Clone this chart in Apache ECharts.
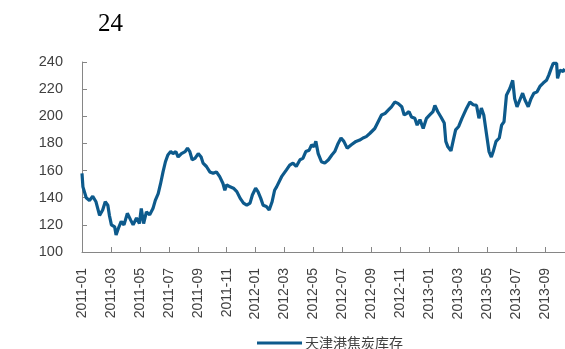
<!DOCTYPE html>
<html>
<head>
<meta charset="utf-8">
<script src="https://cdn.jsdelivr.net/npm/echarts@6/dist/echarts.min.js"></script>
<style>
  html, body { margin: 0; padding: 0; background: #fff; }
  #chart { width: 565px; height: 349px; }
</style>
</head>
<body>
<div id="chart"></div>
<script>
// 天津港焦炭库存（万吨）
const dates = [
  '2011-01-01','2011-01-03','2011-01-10','2011-01-17','2011-01-24','2011-01-31',
  '2011-02-07','2011-02-13','2011-02-18','2011-02-23','2011-02-26',
  '2011-03-02','2011-03-09','2011-03-12','2011-03-17','2011-03-23','2011-03-29',
  '2011-04-05','2011-04-12','2011-04-17','2011-04-24','2011-04-30',
  '2011-05-04','2011-05-09','2011-05-15','2011-05-22','2011-05-29',
  '2011-06-03','2011-06-09','2011-06-14','2011-06-19','2011-06-24','2011-06-29',
  '2011-07-05','2011-07-10','2011-07-16','2011-07-21','2011-07-28',
  '2011-08-05','2011-08-10','2011-08-15','2011-08-20','2011-08-26',
  '2011-09-02','2011-09-08','2011-09-12','2011-09-19','2011-09-26',
  '2011-10-03','2011-10-10','2011-10-17','2011-10-24','2011-10-28',
  '2011-11-01','2011-11-08','2011-11-15','2011-11-22','2011-11-29',
  '2011-12-06','2011-12-13','2011-12-20','2011-12-25',
  '2012-01-01','2012-01-06','2012-01-12','2012-01-17','2012-01-24','2012-01-30',
  '2012-02-05','2012-02-10','2012-02-14','2012-02-24',
  '2012-03-05','2012-03-12','2012-03-19','2012-03-26',
  '2012-04-03','2012-04-09','2012-04-15','2012-04-22','2012-04-27',
  '2012-05-02','2012-05-06','2012-05-11','2012-05-18','2012-05-25',
  '2012-06-02','2012-06-09','2012-06-15','2012-06-22','2012-06-28',
  '2012-07-04','2012-07-11','2012-07-20','2012-07-30',
  '2012-08-07','2012-08-14','2012-08-21','2012-08-29',
  '2012-09-08','2012-09-15','2012-09-22','2012-09-29',
  '2012-10-06','2012-10-13','2012-10-20','2012-10-27',
  '2012-11-04','2012-11-09','2012-11-14','2012-11-19','2012-11-24',
  '2012-12-01','2012-12-06','2012-12-12','2012-12-19','2012-12-26',
  '2013-01-02','2013-01-09','2013-01-13','2013-01-19','2013-01-26',
  '2013-02-02','2013-02-05','2013-02-09','2013-02-15','2013-02-19','2013-02-24',
  '2013-03-02','2013-03-09','2013-03-19','2013-03-26',
  '2013-04-02','2013-04-09','2013-04-14','2013-04-19','2013-04-24','2013-04-30',
  '2013-05-05','2013-05-10','2013-05-14','2013-05-20','2013-05-27',
  '2013-06-01','2013-06-06','2013-06-11','2013-06-18','2013-06-24','2013-06-28',
  '2013-07-03','2013-07-09','2013-07-15','2013-07-20','2013-07-27',
  '2013-08-02','2013-08-08','2013-08-15','2013-08-21','2013-08-28',
  '2013-09-04','2013-09-09','2013-09-14','2013-09-18','2013-09-25','2013-09-27',
  '2013-10-02','2013-10-09','2013-10-12'
];
const stock = [
  158,148,140,138,141,137,
  127,131,137,134.5,127,
  120,118.5,112.5,117.5,122.5,120,
  128.5,123.5,120,125,121,
  132,121,129.5,127.5,132,
  138,143,150.5,159,166.5,171.5,
  174,172.5,174,170,172.5,
  174,176.5,174,168,169,
  172.5,170,165.5,163,159,
  158,159,155.5,150.5,145.5,
  149.5,148,147,144.5,139.5,
  136,134.5,136,142,
  147,144.5,139.5,134.5,133.5,131,
  137,145.5,148,155.5,
  160.5,164,165.5,163,
  168,169,174,175,179,
  177.5,181.5,172.5,166.5,165.5,
  168,171.5,174,180,184,
  181.5,176.5,179,181.5,
  182.5,184,185,187.5,
  191,196,201,202,
  204.5,207,210.5,209.5,
  207,201,202,203.5,199.5,
  198.5,193.5,197.5,191,198.5,
  201,203.5,208,203.5,199.5,
  195,181.5,177.5,174.5,181.5,190,
  192.5,198.5,206,210.5,
  208.5,208,198.5,206,201,186,
  174,170,174,181.5,184,
  193.5,196,215.5,220.5,226.5,213,
  207,212,217,212,207,
  213,217,218,222,224.5,
  226.5,230.5,235.5,239,239,228,
  234,233,235
];
const yTicks = [100, 120, 140, 160, 180, 200, 220, 240];
const seriesName = '天津港焦炭库存';

const MONTH0 = 2011 * 12;
const X_MAX = 33.38;

// date string -> fractional month index counted from 2011-01-01
function monthIndex(s) {
  const [y, m, d] = s.split('-').map(Number);
  const dim = new Date(y, m, 0).getDate();
  return y * 12 + (m - 1) - MONTH0 + (d - 1) / dim;
}
function monthLabel(idx) {
  const t = MONTH0 + Math.round(idx);
  const y = Math.floor(t / 12);
  const m = t % 12 + 1;
  return y + '-' + (m < 10 ? '0' + m : m);
}
const xTicks = [];
for (let i = 0; i <= 32; i += 2) xTicks.push(i);

const points = dates.map((d, i) => [monthIndex(d), stock[i]]);

const axisColor = '#868686';
const labelColor = '#404040';
const chart = echarts.init(document.getElementById('chart'));
chart.setOption({
  animation: false,
  backgroundColor: '#ffffff',
  title: {
    text: '24',
    left: 93,
    top: 7,
    textStyle: { fontFamily: 'Liberation Serif, Times New Roman, serif', fontSize: 25, fontWeight: 'normal', color: '#000' }
  },
  legend: {
    data: [seriesName],
    left: 252,
    top: 331,
    icon: 'rect',
    itemWidth: 45,
    itemHeight: 3,
    itemGap: 10,
    textStyle: { fontFamily: 'Noto Sans CJK SC, sans-serif', fontSize: 14, color: '#404040', padding: [0, 0, 0, -2] }
  },
  grid: { left: 82, right: 0, top: 62, bottom: 97, containLabel: false },
  xAxis: {
    type: 'value',
    min: 0,
    max: X_MAX,
    interval: 2,
    splitLine: { show: false },
    axisLine: { lineStyle: { color: axisColor, width: 1 } },
    axisTick: { inside: true, length: 5, lineStyle: { color: axisColor }, customValues: xTicks },
    axisLabel: {
      rotate: 90,
      margin: 16,
      customValues: xTicks,
      formatter: v => monthLabel(v),
      fontFamily: 'Liberation Sans, Arial, sans-serif',
      fontSize: 14,
      color: labelColor
    }
  },
  yAxis: {
    type: 'value',
    min: yTicks[0],
    max: yTicks[yTicks.length - 1],
    interval: 20,
    splitLine: { show: false },
    axisLine: { show: true, lineStyle: { color: axisColor, width: 1 } },
    axisTick: { show: true, inside: true, length: 5, lineStyle: { color: axisColor } },
    axisLabel: {
      margin: 19,
      fontFamily: 'Liberation Sans, Arial, sans-serif',
      fontSize: 14.5,
      color: labelColor
    }
  },
  series: [{
    name: seriesName,
    type: 'line',
    data: points,
    showSymbol: false,
    symbol: 'none',
    lineStyle: { color: '#0d5a8c', width: 3.2 },
    itemStyle: { color: '#0d5a8c' }
  }]
});
</script>
</body>
</html>
